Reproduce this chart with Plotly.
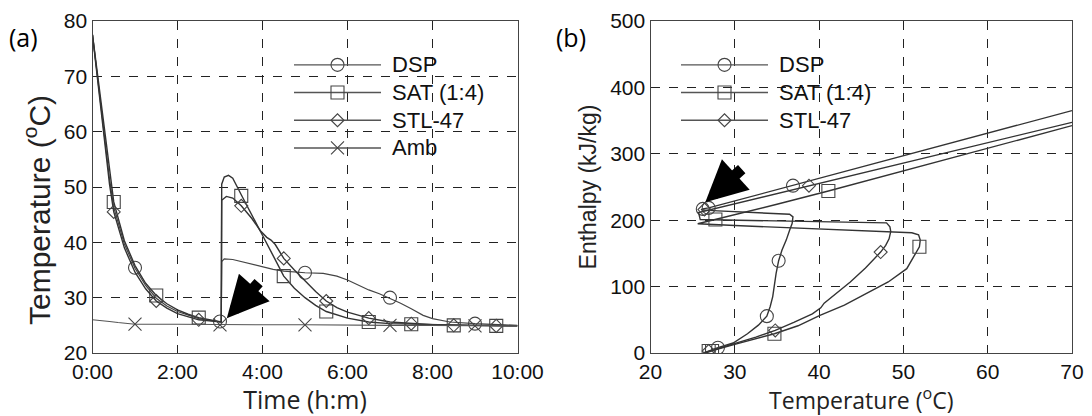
import plotly.graph_objects as go

# ---------------- Panel (a): Temperature vs time ----------------
time_ticks = [0, 2, 4, 6, 8, 10]
time_labels = ["0:00", "2:00", "4:00", "6:00", "8:00", "10:00"]

dsp_t = [0, 0.1, 0.2, 0.3, 0.4, 0.5, 0.75, 1.0, 1.25, 1.5, 1.75, 2.0, 2.25, 2.5, 2.75, 3.0, 3.03, 3.04, 3.1, 3.3, 3.5,
         3.75, 4.0, 4.25, 4.5, 5.0, 5.43, 5.75, 6.0, 6.25, 6.5, 6.75, 7.0, 7.25, 7.5, 7.78, 8.0, 8.41, 9.0, 9.5, 10.0]
dsp_T = [77.5, 71.0, 64.2, 57.5, 51.5, 46.3, 39.7, 35.3, 32.2, 29.9, 28.5, 27.5, 26.8, 26.2, 25.9, 25.7, 25.6, 36.5,
         37.0, 36.9, 36.5, 36.0, 35.5, 35.1, 34.8, 34.5, 34.4, 33.9, 33.2, 32.3, 31.4, 30.7, 29.9, 29.0, 28.0, 26.8,
         26.2, 25.6, 25.3, 25.1, 25.0]

sat_t = [0, 0.1, 0.2, 0.3, 0.4, 0.5, 0.75, 1.0, 1.25, 1.5, 1.75, 2.0, 2.25, 2.5, 2.75, 3.0, 3.03, 3.04, 3.1, 3.2, 3.3,
         3.5, 3.75, 3.95, 4.25, 4.5, 4.75, 5.0, 5.25, 5.5, 6.0, 6.5, 7.0, 8.0, 9.0, 10.0]
sat_T = [77.5, 71.5, 65.0, 58.5, 52.5, 47.3, 40.3, 35.8, 32.6, 30.4, 28.9, 27.8, 27.0, 26.4, 26.0, 25.7, 25.6, 50.5,
         51.8, 52.1, 51.6, 48.6, 44.8, 42.0, 37.6, 33.9, 31.7, 30.0, 28.6, 27.5, 26.3, 25.6, 25.3, 25.1, 25.0, 24.9]

stl_t = [0, 0.1, 0.2, 0.3, 0.4, 0.5, 0.75, 1.0, 1.25, 1.5, 1.75, 2.0, 2.25, 2.5, 2.75, 3.0, 3.03, 3.04, 3.15, 3.3,
         3.5, 3.75, 3.95, 4.1, 4.2, 4.3, 4.5, 4.75, 5.0, 5.25, 5.5, 5.75, 6.0, 6.5, 7.0, 7.5, 8.0, 9.0, 10.0]
stl_T = [77.5, 70.5, 63.5, 56.5, 50.5, 45.5, 39.0, 34.6, 31.6, 29.4, 28.1, 27.1, 26.5, 26.0, 25.8, 25.6, 25.6, 47.6,
         48.3, 48.0, 46.6, 44.3, 42.1, 40.9, 40.4, 39.6, 37.1, 35.0, 33.0, 31.1, 29.4, 28.2, 27.4, 26.3, 25.6, 25.3,
         25.1, 25.0, 24.9]

amb_t = [0, 0.2, 0.4, 0.6, 0.8, 1.0, 2.0, 3.0, 4.0, 5.0, 6.0, 7.0, 8.0, 9.0, 10.0]
amb_T = [26.0, 25.9, 25.7, 25.5, 25.3, 25.2, 25.2, 25.1, 25.1, 25.1, 25.0, 25.0, 25.0, 24.9, 24.9]

dsp_mk_t = [1, 3, 5, 7, 9]
dsp_mk_T = [35.4, 25.7, 34.5, 30.0, 25.3]
sat_mk_t = [0.5, 1.5, 2.5, 3.5, 4.5, 5.5, 6.5, 7.5, 8.5, 9.5]
sat_mk_T = [47.3, 30.4, 26.4, 48.4, 33.9, 27.5, 25.6, 25.2, 25.0, 24.9]
stl_mk_t = [0.5, 1.5, 2.5, 3.5, 4.5, 5.5, 6.5, 7.5, 8.5, 9.5]
stl_mk_T = [45.5, 29.4, 26.0, 46.6, 37.1, 29.4, 26.3, 25.3, 25.0, 24.9]
amb_mk_t = [1, 3, 5, 7, 9]
amb_mk_T = [25.2, 25.1, 25.1, 25.0, 24.9]

# ---------------- Panel (b): Enthalpy vs temperature ----------------
dsp_Tb = [70, 60, 50, 40, 36.9, 30, 26.9, 26.2, 26.0, 28, 32, 35, 36.5, 36.9, 36.8, 36.5, 36.1, 35.6, 35.2, 34.9,
          34.7, 34.5, 34.2, 33.8, 32.8, 31.5, 29.8, 28.0, 26.3]
dsp_H = [365, 331, 297, 262.5, 252, 228, 218.5, 217, 215.5, 214, 212, 210.5, 209, 205, 195, 185, 170, 155, 139, 120,
         100, 85, 70, 55.5, 42, 29, 15, 8, 0]

stl_Tb = [70, 60, 50, 40, 38.8, 30, 26.2, 25.7, 25.9, 28, 35, 42, 46, 48.0, 48.4, 48.5, 48.3, 47.9, 47.3, 46.4, 45.5,
          43.7, 42.2, 41.3, 40.6, 40.2, 39.2, 37.0, 34.8, 32.5, 30.0, 28.0, 26.3]
stl_H = [347.4, 316.7, 286, 255.3, 252, 224.6, 213, 211.5, 201, 200.5, 199.5, 198, 196.5, 196, 190, 183, 172, 162,
         152, 140, 128, 107, 91, 82, 75, 68, 59, 46, 34, 24, 14, 7, 0]

sat_Tb = [70, 60, 50, 41.1, 35, 30, 27.7, 25.6, 30, 35, 40, 45, 49, 51, 51.8, 52.0, 51.9, 51.3, 50.4, 48.2, 45.6, 43,
          40.1, 37.5, 34.7, 32.5, 30, 28, 26.5]
sat_H = [342.4, 308, 274, 244, 224, 208, 201, 194.6, 192, 189.5, 187, 184.5, 182.5, 181, 178, 170, 160, 147, 127,
         107, 89, 72, 56.7, 41, 29, 21, 13, 6, 0]

dsp_mk_Tb = [36.9, 26.9, 26.2, 35.2, 33.8, 28.0]
dsp_mk_H = [252, 218.5, 217, 139, 55.5, 8]
sat_mk_Tb = [41.1, 27.7, 51.9, 34.7, 27.3, 26.9]
sat_mk_H = [244, 201, 160, 29, 3, 3]
stl_mk_Tb = [38.8, 26.4, 47.3, 34.8, 26.9]
stl_mk_H = [252, 216, 152, 34, 3]

LINE = "#333333"
MK = "#444444"
TICKFONT = dict(family="Liberation Sans, Arial, sans-serif", size=21, color="#111111")
TITLEFONT_A = dict(family="Liberation Sans, Arial, sans-serif", size=30, color="#222222")
TITLEFONT_B = dict(family="Liberation Sans, Arial, sans-serif", size=23, color="#222222")
XTITLEFONT_A = dict(family="Open Sans, sans-serif", size=25, color="#222222")
XTITLEFONT_B = dict(family="Open Sans, sans-serif", size=23, color="#222222")
LEGFONT = dict(family="Liberation Sans, Arial, sans-serif", size=19, color="#111111")

fig = go.Figure()


def big(txt):
    return "<span style='font-size:22px'>\u00a0" + txt + "</span>"


def add_series(x, y, mx, my, name, symbol, msize, xa, ya, legend, color=LINE, width=1.4):
    fig.add_trace(go.Scatter(x=x, y=y, mode="lines", line=dict(color=color, width=width),
                             xaxis=xa, yaxis=ya, showlegend=False, hoverinfo="skip"))
    fig.add_trace(go.Scatter(x=mx, y=my, mode="markers", xaxis=xa, yaxis=ya, showlegend=False,
                             marker=dict(symbol=symbol, size=msize, color=MK, line=dict(color=MK, width=1.1))))
    fig.add_trace(go.Scatter(x=[None], y=[None], mode="lines+markers", name=big(name), xaxis=xa, yaxis=ya,
                             legend=legend, line=dict(color="#555555", width=1.4),
                             marker=dict(symbol=symbol, size=msize, color=MK, line=dict(color=MK, width=1.1))))


# panel (a)
add_series(dsp_t, dsp_T, dsp_mk_t, dsp_mk_T, "DSP", "circle-open", 13, "x", "y", "legend", color="#444444", width=1.2)
add_series(sat_t, sat_T, sat_mk_t, sat_mk_T, "SAT (1:4)", "square-open", 13, "x", "y", "legend")
add_series(stl_t, stl_T, stl_mk_t, stl_mk_T, "STL-47", "diamond-open", 10, "x", "y", "legend")
add_series(amb_t, amb_T, amb_mk_t, amb_mk_T, "Amb", "x-thin-open", 13, "x", "y", "legend", color="#555555", width=1.1)

# panel (b)
add_series(dsp_Tb, dsp_H, dsp_mk_Tb, dsp_mk_H, "DSP", "circle-open", 13, "x2", "y2", "legend2")
add_series(sat_Tb, sat_H, sat_mk_Tb, sat_mk_H, "SAT (1:4)", "square-open", 13, "x2", "y2", "legend2")
add_series(stl_Tb, stl_H, stl_mk_Tb, stl_mk_H, "STL-47", "diamond-open", 10, "x2", "y2", "legend2")

# page has an 8 px body margin: figure sized to fit the 1092x416 window
OFF = 8
W, H = 1092 - OFF, 416 - OFF


def px(xr):
    return (xr - OFF) / W


def py(yr):
    return 1 - (yr - OFF) / H


xd1 = [px(92.5), px(517.5)]
xd2 = [px(650.5), px(1072)]
yd = [py(353), py(21)]

axis_common = dict(showline=True, mirror=True, linecolor="#444444", linewidth=1.2, ticks="",
                   showgrid=True, gridcolor="#222222", griddash="dash", gridwidth=1, zeroline=False,
                   tickfont=TICKFONT, automargin=False)

fig.update_layout(
    width=W, height=H, margin=dict(l=0, r=0, t=0, b=0, autoexpand=False),
    paper_bgcolor="white", plot_bgcolor="white",
    xaxis=dict(domain=xd1, range=[0, 10], tickvals=time_ticks, ticktext=time_labels, anchor="y",
               title=dict(text="Time (h:m)", font=XTITLEFONT_A, standoff=8), **axis_common),
    yaxis=dict(domain=yd, range=[20, 80], dtick=10, anchor="x", title=dict(text=""), **axis_common),
    xaxis2=dict(domain=xd2, range=[20, 70], dtick=10, anchor="y2",
                title=dict(text="Temperature (<sup>o</sup>C)", font=XTITLEFONT_B, standoff=4), **axis_common),
    yaxis2=dict(domain=yd, range=[0, 500], dtick=100, anchor="x2",
                title=dict(text="Enthalpy (kJ/kg)", font=TITLEFONT_B, standoff=7), **axis_common),
    legend=dict(x=(289 - OFF) / W, y=py(46), xanchor="left", yanchor="top", bgcolor="rgba(0,0,0,0)",
                font=LEGFONT, itemwidth=87, tracegroupgap=0),
    legend2=dict(x=(676 - OFF) / W, y=py(46), xanchor="left", yanchor="top", bgcolor="rgba(0,0,0,0)",
                 font=LEGFONT, itemwidth=87, tracegroupgap=0),
    showlegend=True,
)

# y-axis title of panel (a), sitting slightly below the axis centre as in the source figure
fig.add_annotation(x=px(37), y=py(210), xref="paper", yref="paper", text="Temperature (<sup>o</sup>C)",
                   textangle=-90, showarrow=False, font=TITLEFONT_A, xanchor="center", yanchor="middle")

# arrows pointing at the nucleation trigger
fig.add_annotation(x=3.16, y=26.3, ax=3.94, ay=33.0, xref="x", yref="y", axref="x", ayref="y",
                   showarrow=True, arrowhead=2, arrowsize=0.75, arrowwidth=11, arrowcolor="black", text="")
fig.add_annotation(x=26.5, y=227, ax=31.0, ay=279, xref="x2", yref="y2", axref="x2", ayref="y2",
                   showarrow=True, arrowhead=2, arrowsize=0.75, arrowwidth=11, arrowcolor="black", text="")

# panel labels
fig.add_annotation(x=px(23), y=py(37), xref="paper", yref="paper", text="(a)", showarrow=False,
                   xanchor="center", yanchor="middle",
                   font=dict(family="Open Sans, sans-serif", size=25, color="black"))
fig.add_annotation(x=px(571), y=py(37), xref="paper", yref="paper", text="(b)", showarrow=False,
                   xanchor="center", yanchor="middle",
                   font=dict(family="Open Sans, sans-serif", size=25, color="black"))

fig.write_html("out.html")
